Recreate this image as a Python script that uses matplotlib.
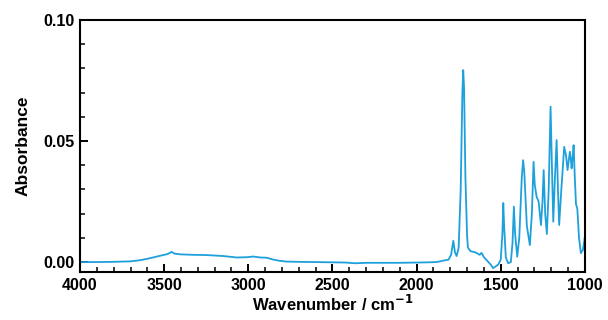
import numpy as np
import matplotlib
matplotlib.use('Agg')
import matplotlib.pyplot as plt
from matplotlib.ticker import MultipleLocator

plt.rcParams['font.family'] = ['Liberation Sans', 'DejaVu Sans']
plt.rcParams['font.weight'] = 'bold'

# wavenumber (cm-1) and absorbance
wavenumber = [4000, 3900, 3800, 3700, 3640, 3584, 3530, 3480, 3455, 3440, 3406, 3330,
              3247, 3150, 3069, 3010, 2970, 2930, 2891, 2850, 2812, 2772, 2700, 2600,
              2500, 2420, 2366, 2300, 2200, 2100, 2000, 1930, 1881, 1842, 1810, 1795,
              1782, 1772, 1762, 1750, 1738, 1728, 1723, 1718, 1710, 1700, 1695, 1680,
              1650, 1625, 1614, 1600, 1580, 1560, 1546, 1530, 1515, 1500, 1490, 1485,
              1480, 1470, 1456, 1440, 1430, 1422, 1415, 1402, 1390, 1375, 1367, 1360,
              1345, 1327, 1315, 1305, 1298, 1287, 1275, 1261, 1252, 1245, 1236, 1226,
              1215, 1204, 1196, 1188, 1178, 1168, 1160, 1153, 1140, 1123, 1112, 1103,
              1096, 1089, 1083, 1079, 1072, 1067, 1060, 1053, 1045, 1035, 1024, 1012, 1000]
absorbance = [0.0000, 0.0000, 0.0001, 0.0003, 0.0008, 0.0016, 0.0025, 0.0033, 0.0042, 0.0035, 0.0032, 0.0030,
              0.0029, 0.0025, 0.0019, 0.0020, 0.0023, 0.0019, 0.0018, 0.0010, 0.0005, 0.0002, 0.0001, 0.0000,
              -0.0001, -0.0002, -0.0005, -0.0003, -0.0003, -0.0003, -0.0002, -0.0001, 0.0000, 0.0006, 0.0010, 0.0030,
              0.0088, 0.0040, 0.0025, 0.0060, 0.0300, 0.0700, 0.0793, 0.0720, 0.0350, 0.0110, 0.0060, 0.0045,
              0.0040, 0.0030, 0.0038, 0.0020, 0.0005, -0.0010, -0.0025, -0.0018, -0.0010, 0.0010, 0.0120, 0.0244,
              0.0150, 0.0020, -0.0005, 0.0000, 0.0080, 0.0229, 0.0120, 0.0022, 0.0100, 0.0350, 0.0421, 0.0370,
              0.0150, 0.0070, 0.0200, 0.0414, 0.0320, 0.0270, 0.0250, 0.0153, 0.0250, 0.0380, 0.0200, 0.0116,
              0.0300, 0.0642, 0.0400, 0.0167, 0.0350, 0.0504, 0.0300, 0.0153, 0.0300, 0.0476, 0.0440, 0.0380,
              0.0420, 0.0456, 0.0420, 0.0387, 0.0440, 0.0483, 0.0350, 0.0240, 0.0220, 0.0100, 0.0037, 0.0050, 0.0105]

fig = plt.figure(figsize=(6.08, 3.2), dpi=100)
ax = fig.add_axes([0.1316, 0.15, 0.8304, 0.7875])

ax.plot(wavenumber, absorbance, color='#1ea0dc', lw=1.3, solid_joinstyle='round')

ax.set_xlim(4000, 1000)
ax.set_ylim(-0.0041, 0.10)
ax.xaxis.set_major_locator(MultipleLocator(500))
ax.xaxis.set_minor_locator(MultipleLocator(100))
ax.yaxis.set_minor_locator(MultipleLocator(0.01))
ax.set_yticks([0.0, 0.05, 0.10])
ax.set_yticklabels(['0.00', '0.05', '0.10'])

ax.tick_params(which='major', direction='in', length=6, width=1.4, labelsize=11.5, pad=4)
ax.tick_params(which='minor', direction='in', length=3.5, width=1.1)
for s in ax.spines.values():
    s.set_linewidth(1.5)

ax.set_xlabel('Wavenumber / cm$^{\\mathbf{-1}}$', fontsize=12, fontweight='bold', labelpad=1)
ax.set_ylabel('Absorbance', fontsize=12.5, fontweight='bold', labelpad=9)

fig.savefig('out.png', dpi=100)
